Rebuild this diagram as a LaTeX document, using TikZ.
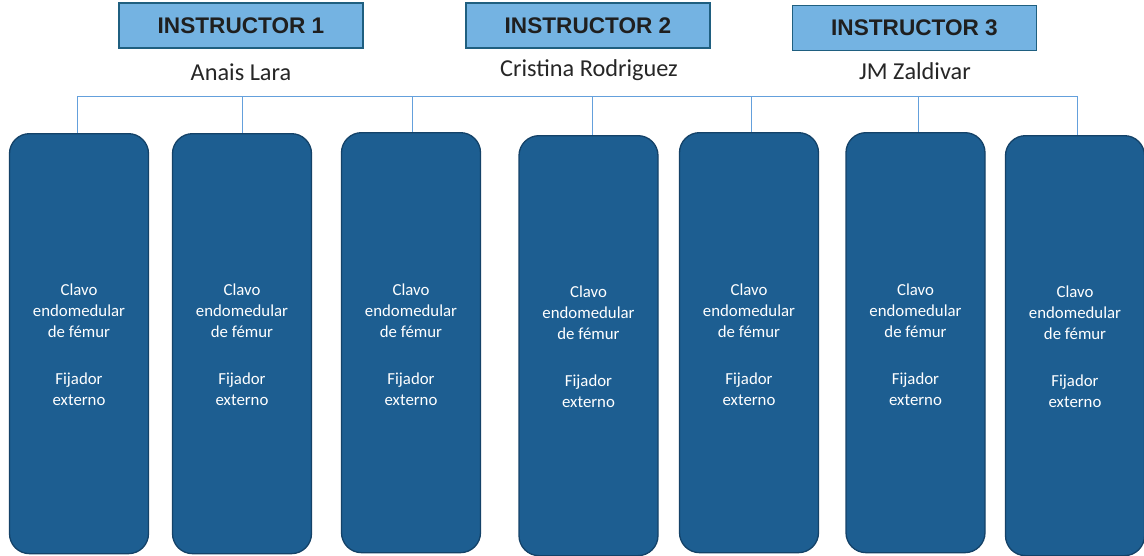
\documentclass[tikz,border=0pt]{standalone}
\usepackage{fontspec}
\setmainfont{Carlito}
\newfontfamily\arialf{Liberation Sans}
\begin{document}
\begin{tikzpicture}[x=1pt,y=-1pt,
  col/.style={draw=boxborder,line width=1.3pt,fill=boxfill,rounded corners=20pt,minimum width=139pt,minimum height=420pt,inner sep=0pt},
  coltxt/.style={text=white,font=\fontsize{16.8}{21}\selectfont,align=center},
  instr/.style={draw=instborder,line width=1.5pt,fill=instfill,minimum width=244pt,minimum height=45pt,inner sep=0pt,font=\arialf\bfseries\fontsize{22.6}{24}\selectfont,text=black!88},
  nm/.style={font=\fontsize{24.3}{26}\selectfont,text=black!85},
  conn/.style={draw=connline,line width=0.9pt}]
\definecolor{boxfill}{RGB}{29,94,145}
\definecolor{boxborder}{RGB}{20,66,104}
\definecolor{instfill}{RGB}{116,179,226}
\definecolor{instborder}{RGB}{31,95,128}
\definecolor{connline}{RGB}{100,160,220}
\useasboundingbox (0,0) rectangle (1144,555);
\node[instr] (i1) at (241,25.5) {INSTRUCTOR 1};
\node[instr] (i2) at (588,25.5) {INSTRUCTOR 2};
\node[instr] (i3) at (914.5,28) {INSTRUCTOR 3};
\node[nm] (n1) at (241,72) {Anais Lara};
\node[nm] (n2) at (589,70) {Cristina Rodriguez};
\node[nm] (n3) at (915,71) {JM Zaldivar};
\newcommand{\coltext}{Clavo\\endomedular\\de fémur\\[26pt]Fijador\\externo}
\node[col,anchor=north] (b1) at (79,133) {};
\node[col,anchor=north] (b2) at (242,133) {};
\node[col,anchor=north] (b3) at (411,132) {};
\node[col,anchor=north] (b4) at (588.5,135) {};
\node[col,anchor=north] (b5) at (749,132) {};
\node[col,anchor=north] (b6) at (915.5,132) {};
\node[col,anchor=north] (b7) at (1075,135) {};
\foreach \i/\y in {1/345,2/345,3/345,4/347,5/345,6/345,7/347}{
  \node[coltxt] (t\i) at (b\i.north |- 0,\y) {\coltext};
}
\coordinate (hl) at (77,96);
\coordinate (hr) at (1077,96);
\draw[conn] (hl) -- (hr);
\foreach \i/\x in {1/77,2/242,3/412,4/592,5/751,6/918,7/1077}{
  \draw[conn] (\x,96) -- (\x,0 |- b\i.north);
}
\end{tikzpicture}
\end{document}
